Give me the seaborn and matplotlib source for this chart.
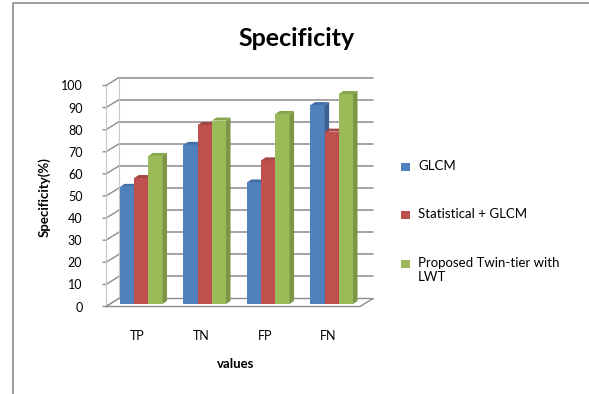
import matplotlib
matplotlib.use("Agg")
import matplotlib.pyplot as plt
import matplotlib.patches as mpatches
import matplotlib.lines as mlines
import seaborn as sns
import pandas as pd
import numpy as np

# ---- data ----
categories = ["TP", "TN", "FP", "FN"]
series_names = ["GLCM", "Statistical + GLCM", "Proposed Twin-tier with\nLWT"]
glcm = [53, 72, 55, 90]
stat_glcm = [57, 81, 65, 78]
proposed = [67, 83, 86, 95]
yticks = list(range(0, 101, 10))

colors = ["#4F81BD", "#C0504D", "#9BBB59"]
side_colors = ["#3A6293", "#94403D", "#7A9646"]
cap_colors = ["#426EA6", "#A54744", "#86A44C"]

rows = []
for s, vals in zip(series_names, [glcm, stat_glcm, proposed]):
    for c, v in zip(categories, vals):
        rows.append({"cat": c, "series": s, "value": v})
df = pd.DataFrame(rows)

sns.set_theme(style="white")
FONT = ["Lato", "DejaVu Sans"]
plt.rcParams["font.family"] = FONT
plt.rcParams["text.color"] = "black"

W, H = 589, 394
DPI = 100
fig = plt.figure(figsize=(W / DPI, H / DPI), dpi=DPI)
fig.patch.set_facecolor("white")

# axes in pixel geometry (front plane)
x0p, x1p = 106, 360
y0p, y1p = 306.5, 85.5
ax = fig.add_axes([x0p / W, (H - y0p) / H, (x1p - x0p) / W, (y0p - y1p) / H])
ax.set_facecolor("none")

sns.barplot(data=df, x="cat", y="value", hue="series", order=categories,
            hue_order=series_names, palette=colors, width=0.67,
            saturation=1, dodge=True, ax=ax, legend=False, linewidth=0, zorder=3)
ax.set_xlim(-0.5, 3.5)
ax.set_ylim(0, 100)
ax.set_yticks(yticks)
for sp in ax.spines.values():
    sp.set_visible(False)
ax.grid(False)

# 3D offsets (pixels, display coordinates, y up)
BDX, BDY = 13, 8        # back wall offset
OFX, OFY = 3.5, 2.5     # bar front offset
DDX, DDY = 4.5, 3.0     # bar depth
GRID = "#8C8C8C"

fig.canvas.draw()
T = ax.transData

def P(x, y):
    return T.transform((x, y))

# back wall gridlines and side-wall lines
for v in yticks:
    a = P(-0.5, v)
    b = P(3.5, v)
    fig.add_artist(mlines.Line2D([a[0] + BDX, b[0] + BDX], [a[1] + BDY, b[1] + BDY],
                                 transform=None, color=GRID, lw=1.1, zorder=1))
    fig.add_artist(mlines.Line2D([a[0] - 3, a[0], a[0] + BDX], [a[1], a[1], a[1] + BDY],
                                 transform=None, color=GRID, lw=1.0, zorder=1))
a = P(-0.5, 0); b = P(-0.5, 100)
fig.add_artist(mlines.Line2D([a[0], b[0]], [a[1], b[1]], transform=None,
                             color="#C8C8C8", lw=0.8, zorder=1))
fig.add_artist(mlines.Line2D([a[0] + BDX, b[0] + BDX], [a[1] + BDY, b[1] + BDY],
                             transform=None, color="#C8C8C8", lw=0.8, zorder=1))
# floor
fl = P(-0.5, 0); fr = P(3.5, 0)
floor = mpatches.Polygon([[fl[0], fl[1]], [fr[0], fr[1]], [fr[0] + BDX, fr[1] + BDY],
                          [fl[0] + BDX, fl[1] + BDY]], closed=True, transform=None,
                         facecolor="white", edgecolor=GRID, lw=1.0, zorder=1.5)
fig.add_artist(floor)

# 3D bars from the seaborn patches
for i, patch in enumerate(ax.patches):
    si = i // len(categories)
    bx = patch.get_x(); bw = patch.get_width(); bh = patch.get_height()
    p0 = P(bx, 0); p1 = P(bx + bw, bh)
    X0, Y0 = p0[0] + OFX, p0[1] + OFY
    X1, Y1 = p1[0] + OFX, p1[1] + OFY
    front = mpatches.Polygon([[X0, Y0], [X1, Y0], [X1, Y1], [X0, Y1]], closed=True,
                             transform=None, facecolor=colors[si], lw=0, zorder=4)
    side = mpatches.Polygon([[X1, Y0], [X1 + DDX, Y0 + DDY], [X1 + DDX, Y1 + DDY], [X1, Y1]],
                            closed=True, transform=None, facecolor=side_colors[si], lw=0, zorder=4)
    cap = mpatches.Polygon([[X0, Y1], [X1, Y1], [X1 + DDX, Y1 + DDY], [X0 + DDX, Y1 + DDY]],
                           closed=True, transform=None, facecolor=cap_colors[si], lw=0, zorder=4)
    for pp in (front, side, cap):
        fig.add_artist(pp)
    patch.set_visible(False)

# ticks and labels
ax.tick_params(axis="y", length=0, pad=17, labelsize=9, colors="black")
ax.tick_params(axis="x", length=0, pad=17, labelsize=9, colors="black")
for lab in ax.get_xticklabels():
    lab.set_family(FONT)
    lab.set_x(lab.get_position()[0])
for lab in ax.get_yticklabels():
    lab.set_family(FONT)
ax.set_xlabel("")
ax.set_ylabel("")

fig.text(297 / W, 1 - 38 / H, "Specificity", ha="center", va="center",
         fontsize=18, fontweight="bold", family=FONT, color="black")
fig.text(44 / W, 1 - 197 / H, "Specificity(%)", ha="center", va="center",
         rotation=90, fontsize=9.5, fontweight="bold", family=FONT, color="black")
fig.text(236 / W, 1 - 364 / H, "values", ha="center", va="center",
         fontsize=9.5, fontweight="bold", family=FONT, color="black")

# legend
leg_y = [167, 215, 264]
for s, c, ly in zip(series_names, colors, leg_y):
    fig.add_artist(mpatches.Rectangle(((405 - 4) / W, 1 - (ly + 4) / H), 9 / W, 8 / H,
                                      transform=fig.transFigure, facecolor=c, lw=0))
    fig.text(418 / W, 1 - (ly - 7) / H, s, ha="left", va="top", fontsize=9.5,
             family=FONT, linespacing=1.2, color="black")

# chart frame
fig.add_artist(mlines.Line2D([13, 13, W + 5], [-5, H - 3, H - 3], transform=None,
                             color="#8C8C8C", lw=1.2))

fig.savefig("out.png", dpi=DPI)
